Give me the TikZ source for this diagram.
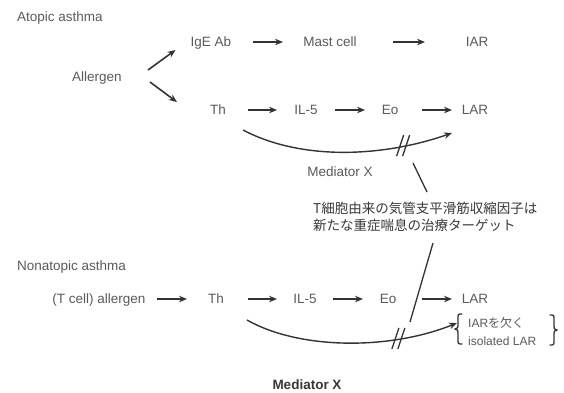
\documentclass[tikz,border=0pt]{standalone}
\usepackage{fontspec}
\setmainfont{Liberation Sans}
\newfontfamily\jpfont{Noto Sans CJK JP}
\usetikzlibrary{arrows.meta,calc}
\definecolor{txt}{HTML}{5A5A5A}
\definecolor{ln}{HTML}{333333}
\definecolor{dk}{HTML}{383838}
\begin{document}
\begin{tikzpicture}[x=1pt,y=-1pt,
  lbl/.style={inner sep=0pt,text=txt,text height=9.5pt,text depth=0pt,font=\fontsize{13.5}{16}\selectfont},
  arr/.style={draw=ln,line width=1.6pt,-{Stealth[length=8pt,width=6.5pt]}},
  crv/.style={draw=ln,line width=1.4pt,-{Stealth[length=8pt,width=6.5pt]}},
  tick/.style={draw=ln,line width=1.3pt},
  ptr/.style={draw=ln,line width=1.3pt},
  brc/.style={draw=ln,line width=1.3pt,line cap=round}]
\useasboundingbox[fill=white] (0,0) rectangle (564,392);

% ---------- Atopic asthma ----------
\node[lbl,anchor=west] (atopic) at (17,17) {Atopic asthma};
\node[lbl] (igE) at (211,42) {IgE Ab};
\node[lbl] (mast) at (330,42) {Mast cell};
\node[lbl] (iar) at (477,42) {IAR};
\node[lbl] (allergen) at (97,77) {Allergen};
\node[lbl] (th1) at (218,110) {Th};
\node[lbl] (il1) at (306,110) {IL-5};
\node[lbl] (eo1) at (390,110) {Eo};
\node[lbl] (lar1) at (475,110) {LAR};
\node[lbl] (medx1) at (340,172) {Mediator X};

\draw[arr] ($(allergen.east)+(26,-7)$) -- ($(igE.west)+(-15,8)$);
\draw[arr] ($(allergen.east)+(28,5)$) -- ($(th1.west)+(-33,-8)$);
\draw[arr] ($(igE)+(42,0)$) -- ($(mast)+(-47,0)$);
\draw[arr] ($(mast)+(63,0)$) -- ($(iar)+(-52,0)$);
\draw[arr] ($(th1)+(30,0)$) -- ($(il1)+(-29,0)$);
\draw[arr] ($(il1)+(29,0)$) -- ($(eo1)+(-25,0)$);
\draw[arr] ($(eo1)+(32,0)$) -- ($(lar1)+(-23,0)$);

\draw[crv] ($(th1)+(25,20)$) .. controls (300,160) and (380,158) .. coordinate[pos=0.78] (s1) ($(lar1)+(-23,23)$);
\draw[tick] ($(s1)+(-7,10)$) -- ($(s1)+(0,-11)$);
\draw[tick] ($(s1)+(-1,10)$) -- ($(s1)+(6,-11)$);

% ---------- Japanese note ----------
\node[inner sep=0pt,anchor=west,align=left,text=dk,font=\jpfont\fontsize{13.5}{17}\selectfont] (jp) at (313,216.5)
  {T細胞由来の気管支平滑筋収縮因子は\\新たな重症喘息の治療ターゲット};
\coordinate (p1a) at (413,163);
\coordinate (p1b) at (427,192);
\coordinate (p2a) at (433,243);
\coordinate (p2b) at (410,322);
\draw[ptr] (p1a) -- (p1b);
\draw[ptr] (p2a) -- (p2b);

% ---------- Nonatopic asthma ----------
\node[lbl,anchor=west] (nonatopic) at (17,266) {Nonatopic asthma};
\node[lbl] (tcell) at (99,299) {(T cell) allergen};
\node[lbl] (th2) at (216,299) {Th};
\node[lbl] (il2) at (305,299) {IL-5};
\node[lbl] (eo2) at (388,299) {Eo};
\node[lbl] (lar2) at (475,299) {LAR};

\draw[arr] ($(tcell)+(58,0)$) -- ($(th2)+(-29,0)$);
\draw[arr] ($(th2)+(32,0)$) -- ($(il2)+(-28,0)$);
\draw[arr] ($(il2)+(28,0)$) -- ($(eo2)+(-25,0)$);
\draw[arr] ($(eo2)+(34,0)$) -- ($(lar2)+(-23,0)$);

\node[inner sep=0pt,anchor=west,align=left,text=txt,font=\fontsize{12}{18}\selectfont] (brk) at (468,331)
  {IAR{\jpfont を欠く}\\isolated LAR};
\coordinate (btip) at (457,323);
\draw[crv] ($(th2)+(31,21)$) .. controls (300,350) and (390,350) .. coordinate[pos=0.73] (s2) (btip);
\draw[tick] ($(s2)+(-7,10)$) -- ($(s2)+(0,-11)$);
\draw[tick] ($(s2)+(-1,10)$) -- ($(s2)+(6,-11)$);

% braces
\draw[brc] (462,314) .. controls (458,314) .. (458,319) -- (458,325)
  .. controls (458,328) .. (455,329) .. controls (458,330) .. (458,333)
  -- (458,339) .. controls (458,344) .. (462,344);
\draw[brc] (550,315) .. controls (554,315) .. (554,320) -- (554,326)
  .. controls (554,329) .. (557,330) .. controls (554,331) .. (554,334)
  -- (554,340) .. controls (554,345) .. (550,345);

\node[inner sep=0pt,text=dk,font=\bfseries\fontsize{13.5}{16}\selectfont] (medx2) at (307,385) {Mediator X};
\end{tikzpicture}
\end{document}
